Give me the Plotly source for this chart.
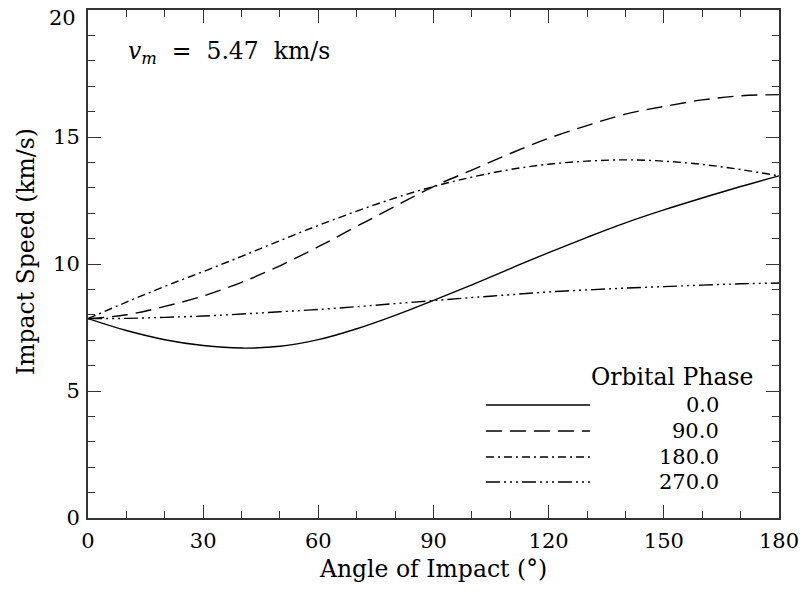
import plotly.graph_objects as go

angles = [0, 10, 20, 30, 40, 50, 60, 70, 80, 90, 100, 110, 120, 130, 140, 150, 160, 170, 180]

speed_phase_0 = [7.85, 7.38, 7.02, 6.79, 6.69, 6.76, 7.02, 7.45, 7.98, 8.57, 9.18, 9.82, 10.45, 11.05, 11.62, 12.13, 12.6, 13.05, 13.47]
speed_phase_90 = [7.85, 8.0, 8.33, 8.74, 9.28, 9.93, 10.68, 11.48, 12.27, 13.05, 13.7, 14.35, 14.95, 15.45, 15.9, 16.2, 16.46, 16.62, 16.67]
speed_phase_180 = [7.85, 8.5, 9.12, 9.7, 10.3, 10.92, 11.52, 12.08, 12.6, 13.05, 13.42, 13.72, 13.93, 14.05, 14.1, 14.05, 13.92, 13.72, 13.47]
speed_phase_270 = [7.85, 7.86, 7.9, 7.95, 8.03, 8.12, 8.21, 8.32, 8.44, 8.56, 8.68, 8.79, 8.9, 8.98, 9.05, 9.11, 9.17, 9.22, 9.25]

phase_labels = ["0.0", "90.0", "180.0", "270.0"]
legend_title = "Orbital Phase"
x_title = "Angle of Impact (°)"
y_title = "Impact Speed (km/s)"
note_text = "<i>v</i><sub><i>m</i></sub>&nbsp;&nbsp;=&nbsp;&nbsp;5.47&nbsp;&nbsp;km/s"
x_ticks = [0, 30, 60, 90, 120, 150, 180]
y_ticks = [0, 5, 10, 15, 20]

series = [speed_phase_0, speed_phase_90, speed_phase_180, speed_phase_270]
dashes = ["solid", "16px,8px", "8px,4px,2px,4px", "14px,4px,2px,4px,2px,4px,2px,4px"]

FONT = "DejaVu Serif"
TICK_SIZE = 21
TITLE_SIZE = 23.5

fig = go.Figure()
for vals, dash, lab in zip(series, dashes, phase_labels):
    fig.add_trace(go.Scatter(
        x=angles, y=vals, mode="lines", name=lab,
        line=dict(color="black", width=1.4, dash=dash, shape="spline", smoothing=1.0),
        showlegend=False,
    ))

# plot area pixel geometry
L, R, T, B = 88, 779, 10, 518
def px(xp):
    return (xp - L) / (R - L)
def py(yp):
    return (B - yp) / (B - T)

shapes = []
annotations = []
legend_rows = [405, 431, 457, 482]
for dash, lab, yr in zip(dashes, phase_labels, legend_rows):
    shapes.append(dict(type="line", xref="paper", yref="paper",
                       x0=px(486), x1=px(590), y0=py(yr), y1=py(yr),
                       line=dict(color="black", width=1.4, dash=dash)))
    annotations.append(dict(xref="paper", yref="paper", x=px(721), y=py(yr),
                            text=lab, showarrow=False, xanchor="right", yanchor="middle",
                            font=dict(family=FONT, size=TICK_SIZE, color="black")))
annotations.append(dict(xref="paper", yref="paper", x=px(755), y=py(377),
                        text=legend_title, showarrow=False, xanchor="right", yanchor="middle",
                        font=dict(family=FONT, size=TITLE_SIZE, color="black")))
annotations.append(dict(xref="paper", yref="paper", x=px(126), y=py(53),
                        text=note_text, showarrow=False,
                        xanchor="left", yanchor="middle",
                        font=dict(family=FONT, size=TITLE_SIZE, color="black")))
annotations.append(dict(xref="paper", yref="paper", x=px(26), y=py(252),
                        text=y_title, showarrow=False, textangle=-90,
                        xanchor="center", yanchor="middle",
                        font=dict(family=FONT, size=TITLE_SIZE, color="black")))
# top y tick label sits just below the frame edge (as in the reference)
annotations.append(dict(xref="paper", yref="y", x=px(78), y=y_ticks[-1], yshift=-8,
                        text=str(y_ticks[-1]), showarrow=False,
                        xanchor="right", yanchor="middle",
                        font=dict(family=FONT, size=TICK_SIZE, color="black")))

axis_common = dict(
    showline=True, linecolor="#333", linewidth=2, mirror="allticks",
    ticks="inside", ticklen=13, tickwidth=1.3, tickcolor="#333",
    showgrid=False, zeroline=False, automargin=False,
    tickfont=dict(family=FONT, size=TICK_SIZE, color="black"),
)

fig.update_xaxes(range=[0, 180], tickvals=x_ticks, ticklabelstandoff=3,
                 minor=dict(dtick=10, ticks="inside", ticklen=7, tickwidth=1.3, tickcolor="#333"),
                 title=dict(text=x_title, font=dict(family=FONT, size=TITLE_SIZE, color="black"), standoff=8),
                 ticklabeloverflow="allow",
                 **axis_common)
fig.update_yaxes(range=[0, 20], tickvals=y_ticks[:-1],
                 ticklabelstandoff=2,
                 minor=dict(dtick=1, ticks="inside", ticklen=7, tickwidth=1.3, tickcolor="#333"),
                 **axis_common)

fig.update_layout(
    width=804, height=594,
    margin=dict(l=L, r=804 - R, t=T, b=594 - B, autoexpand=False),
    plot_bgcolor="white", paper_bgcolor="white",
    shapes=shapes, annotations=annotations,
    font=dict(family=FONT, color="black"),
)

fig.write_html("out.html")
